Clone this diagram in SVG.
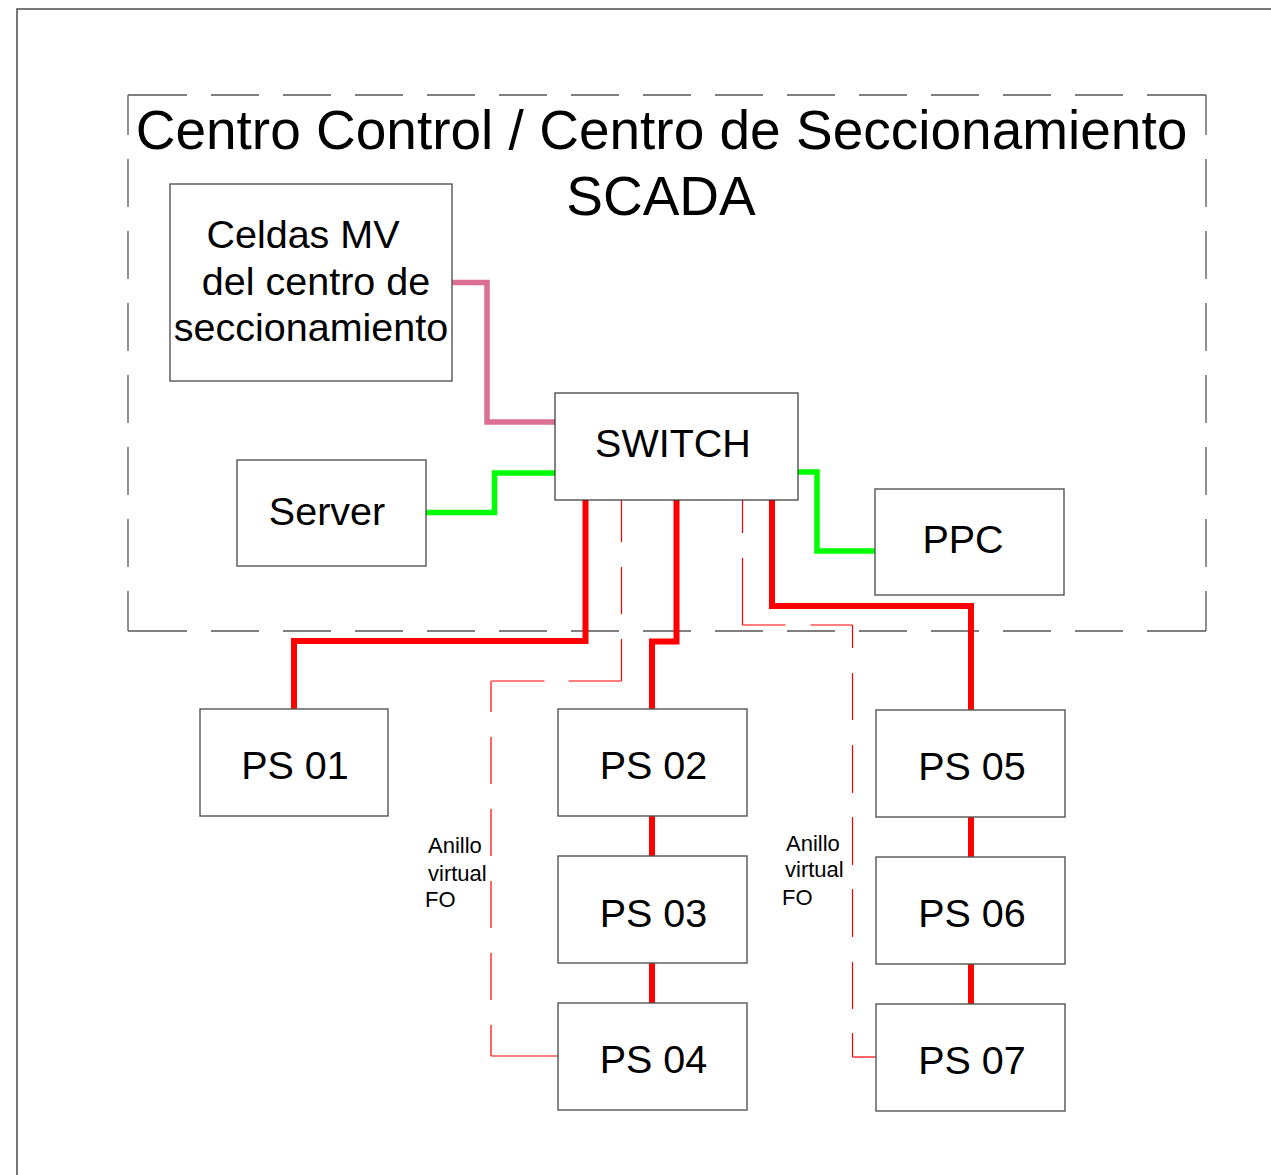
<svg xmlns="http://www.w3.org/2000/svg" width="1271" height="1175" viewBox="0 0 1271 1175">
<style>
  text { font-family: "Liberation Sans", Arial, sans-serif; fill: #000; }
  .box { fill: #fff; stroke: #555; stroke-width: 1.4; }
  .sw { fill: #fff; stroke: #333; stroke-width: 1.2; }
  .lbl { font-size: 39.5px; text-anchor: middle; }
  .title { font-size: 55px; text-anchor: middle; }
  .note { font-size: 22px; }
  .area { stroke: #555; stroke-width: 1.3; fill: none; }
  .wire { fill: none; stroke-linejoin: miter; stroke-linecap: butt; }
  .fo { stroke: #ff0000; stroke-width: 6; }
  .mv { stroke: #db7093; stroke-width: 5.5; }
  .lan { stroke: #00ff00; stroke-width: 5.5; }
  .ring { stroke: #ff0000; stroke-width: 1.2; fill: none; }
</style>
<rect x="0" y="0" width="1271" height="1175" fill="#fff"/>
<rect x="17" y="9" width="1270" height="1180" fill="none" stroke="#555" stroke-width="1.6"/>
<g id="area">
  <line class="area" x1="128" y1="95" x2="1206" y2="95" stroke-dasharray="59 24 48 24 48 24 48 24 48 24 48 24 48 24 48 24 48 24 48 24 48 24 48 24 48 24 48 24 59 24"/>
  <line class="area" x1="128" y1="631" x2="1206" y2="631" stroke-dasharray="59 24 48 24 48 24 48 24 48 24 48 24 48 24 48 24 48 24 48 24 48 24 48 24 48 24 48 24 59 24"/>
  <line class="area" x1="128" y1="95" x2="128" y2="631" stroke-dasharray="48 24" stroke-dashoffset="8"/>
  <line class="area" x1="1206" y1="95" x2="1206" y2="631" stroke-dasharray="48 24" stroke-dashoffset="8"/>
  <text class="title" x="661.5" y="149">Centro Control / Centro de Seccionamiento</text>
  <text class="title" x="661" y="215">SCADA</text>
</g>
<g id="connectors">
  <path class="wire mv" d="M452,282.5 H487 V422 H555"/>
  <path class="wire lan" d="M426,512.5 H494.5 V473 H555"/>
  <path class="wire lan" d="M798,472 H817 V551 H875"/>
  <path class="wire fo" d="M585.5,500 V641 H294 V709"/>
  <path class="wire fo" d="M676.5,500 V641.5 H652 V709"/>
  <path class="wire fo" d="M772,500 V606 H971 V710"/>
  <path class="wire fo" d="M652,816 V856 M652,963 V1003"/>
  <path class="wire fo" d="M971,817 V857 M971,964 V1004"/>
  <line class="ring" x1="621.5" y1="500" x2="621.5" y2="681" stroke-dasharray="42 25 47 25 42"/>
  <line class="ring" x1="621.5" y1="681" x2="491" y2="681" stroke-dasharray="53 24 53"/>
  <line class="ring" x1="491" y1="681" x2="491" y2="1056" stroke-dasharray="31 25 47 25 47 25 47 25 47 25 31"/>
  <line class="ring" x1="491" y1="1056" x2="558" y2="1056"/>
  <line class="ring" x1="742.5" y1="500" x2="742.5" y2="625" stroke-dasharray="33 25 67"/>
  <line class="ring" x1="742.5" y1="625" x2="852.5" y2="625" stroke-dasharray="43 25 43"/>
  <line class="ring" x1="852.5" y1="625" x2="852.5" y2="1057" stroke-dasharray="23 25 47 25 48 24 48 24 48 25 47 24 24"/>
  <line class="ring" x1="852.5" y1="1057" x2="876" y2="1057"/>
  <text class="note" x="428" y="853">Anillo</text>
  <text class="note" x="428" y="881">virtual</text>
  <text class="note" x="425" y="907">FO</text>
  <text class="note" x="786" y="851">Anillo</text>
  <text class="note" x="785" y="877">virtual</text>
  <text class="note" x="782" y="905">FO</text>
</g>
<g id="celdas">
  <rect class="box" x="170" y="184" width="282" height="197"/>
  <text class="lbl" x="303" y="248">Celdas MV</text>
  <text class="lbl" x="316" y="295">del centro de</text>
  <text class="lbl" x="311" y="341">seccionamiento</text>
</g>
<g id="switch">
  <rect class="sw" x="555" y="393" width="243" height="107"/>
  <text class="lbl" x="673" y="457">SWITCH</text>
</g>
<g id="server">
  <rect class="box" x="237" y="460" width="189" height="106"/>
  <text class="lbl" x="327" y="525">Server</text>
</g>
<g id="ppc">
  <rect class="box" x="875" y="489" width="189" height="106"/>
  <text class="lbl" x="963" y="553">PPC</text>
</g>
<g id="ps01">
  <rect class="box" x="200" y="709" width="188" height="107"/>
  <text class="lbl" x="295" y="779">PS 01</text>
</g>
<g id="ps02">
  <rect class="box" x="558" y="709" width="189" height="107"/>
  <text class="lbl" x="653.5" y="779">PS 02</text>
</g>
<g id="ps03">
  <rect class="box" x="558" y="856" width="189" height="107"/>
  <text class="lbl" x="653.5" y="926.5">PS 03</text>
</g>
<g id="ps04">
  <rect class="box" x="558" y="1003" width="189" height="107"/>
  <text class="lbl" x="653.5" y="1073">PS 04</text>
</g>
<g id="ps05">
  <rect class="box" x="876" y="710" width="189" height="107"/>
  <text class="lbl" x="972" y="780">PS 05</text>
</g>
<g id="ps06">
  <rect class="box" x="876" y="857" width="189" height="107"/>
  <text class="lbl" x="972" y="927">PS 06</text>
</g>
<g id="ps07">
  <rect class="box" x="876" y="1004" width="189" height="107"/>
  <text class="lbl" x="972" y="1074">PS 07</text>
</g>
</svg>
